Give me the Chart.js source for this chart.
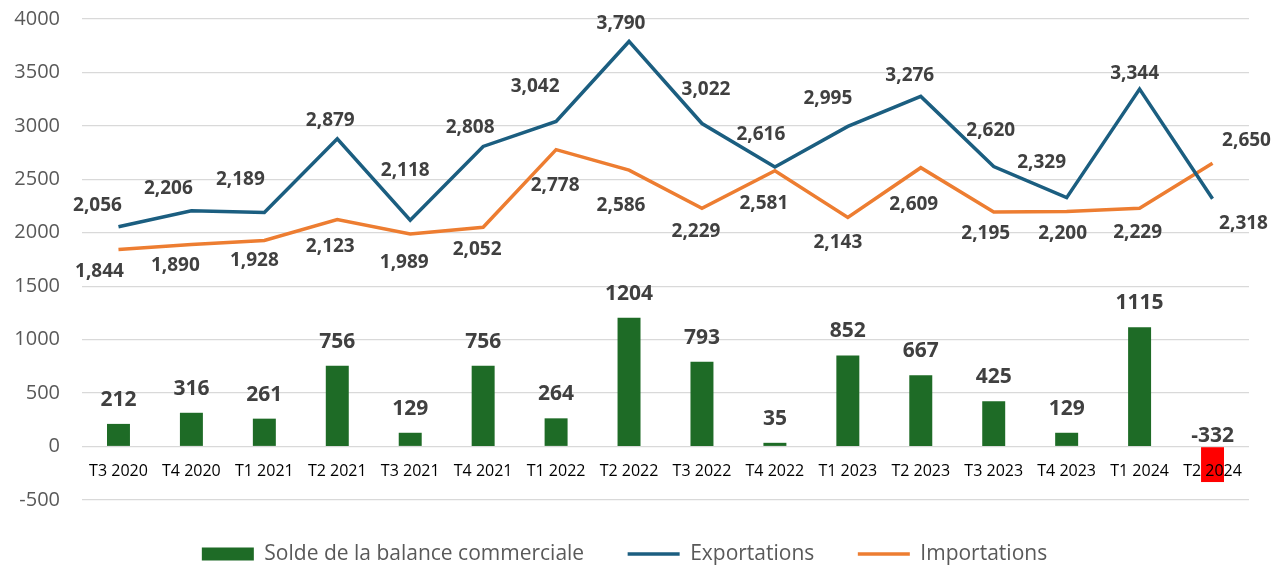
<!DOCTYPE html>
<html lang="fr">
<head>
<meta charset="utf-8">
<title>Balance commerciale</title>
<script src="https://cdn.jsdelivr.net/npm/chart.js@4/dist/chart.umd.min.js"></script>
<style>
  html, body { margin: 0; padding: 0; background: #ffffff; }
  #wrap { width: 1271px; height: 566px; }
</style>
</head>
<body>
<div id="wrap"><canvas id="c" width="1271" height="566"></canvas></div>
<script>
// Quarters
const categories = ['T3 2020', 'T4 2020', 'T1 2021', 'T2 2021', 'T3 2021', 'T4 2021',
  'T1 2022', 'T2 2022', 'T3 2022', 'T4 2022', 'T1 2023', 'T2 2023', 'T3 2023',
  'T4 2023', 'T1 2024', 'T2 2024'];

// Trade values per quarter
const exportations = [2056, 2206, 2189, 2879, 2118, 2808, 3042, 3790, 3022, 2616, 2995, 3276, 2620, 2329, 3344, 2318];
const importations = [1844, 1890, 1928, 2123, 1989, 2052, 2778, 2586, 2229, 2581, 2143, 2609, 2195, 2200, 2229, 2650];
const solde = [212, 316, 261, 756, 129, 756, 264, 1204, 793, 35, 852, 667, 425, 129, 1115, -332];

// Value axis ticks
const yTicks = [-500, 0, 500, 1000, 1500, 2000, 2500, 3000, 3500, 4000];

// Label nudges (px) relative to each point, so labels clear the lines
const exportLabelOffsets = [[-21, -21], [-23, -22], [-24, -33], [-7, -18], [-5, -50], [-13, -19], [-21, -35], [-8, -18],
  [4, -34], [-14, -32], [-20, -28], [-11, -21], [-3, -36], [-25, -35], [-5, -16], [31, 25]];
const importLabelOffsets = [[-19, 22], [-16, 21], [-10, 20], [-7, 27], [-6, 29], [-6, 22], [-1, 36], [-8, 35],
  [-6, 23], [-11, 33], [-10, 25], [-7, 37], [-8, 22], [-4, 22], [-2, 24], [34, -23]];

const GREEN = '#1e6b26';
const RED = '#ff0000';
const BLUE = '#1b5e80';
const ORANGE = '#ed7d31';
const FONT = "'Open Sans', 'Noto Sans', sans-serif";

const valueLabels = {
  id: 'valueLabels',
  afterDatasetsDraw(chart) {
    const ctx = chart.ctx;
    ctx.save();
    ctx.fillStyle = '#404040';
    ctx.textAlign = 'center';
    ctx.textBaseline = 'middle';
    chart.data.datasets.forEach((ds, di) => {
      const meta = chart.getDatasetMeta(di);
      meta.data.forEach((el, i) => {
        const v = ds.data[i];
        if (ds.type === 'bar') {
          ctx.font = 'bold 21px ' + FONT;
          const top = Math.min(el.y, el.base);
          const dy = v >= 0 ? -24 : -11;
          ctx.fillText(String(v), el.x, top + dy);
        } else {
          ctx.font = 'bold 19px ' + FONT;
          const off = ds.labelOffsets[i];
          ctx.fillText(v.toLocaleString('en-US'), el.x + off[0], el.y + off[1]);
        }
      });
    });
    ctx.restore();
  }
};

new Chart(document.getElementById('c'), {
  data: {
    labels: categories,
    datasets: [
      {
        type: 'bar',
        label: 'Solde de la balance commerciale',
        data: solde,
        backgroundColor: solde.map(v => v < 0 ? RED : GREEN),
        borderWidth: 0,
        barPercentage: 0.315,
        categoryPercentage: 1,
        order: 3
      },
      {
        type: 'line',
        label: 'Exportations',
        data: exportations,
        borderColor: BLUE,
        backgroundColor: BLUE,
        borderWidth: 3.5,
        pointRadius: 0,
        tension: 0,
        labelOffsets: exportLabelOffsets,
        order: 1
      },
      {
        type: 'line',
        label: 'Importations',
        data: importations,
        borderColor: ORANGE,
        backgroundColor: ORANGE,
        borderWidth: 3.5,
        pointRadius: 0,
        tension: 0,
        labelOffsets: importLabelOffsets,
        order: 2
      }
    ]
  },
  options: {
    responsive: false,
    animation: false,
    layout: { padding: { top: 19, right: 22, left: 0, bottom: -8.5 } },
    plugins: {
      tooltip: { enabled: false },
      legend: {
        position: 'bottom',
        labels: {
          font: { family: FONT, size: 21 },
          color: '#595959',
          usePointStyle: true,
          pointStyleWidth: 52,
          boxHeight: 13,
          padding: 43.5,
          generateLabels(chart) {
            const items = Chart.defaults.plugins.legend.labels.generateLabels(chart);
            items.sort((a, b) => a.datasetIndex - b.datasetIndex);
            items.forEach(it => {
              const ds = chart.data.datasets[it.datasetIndex];
              if (ds.type === 'bar') {
                it.pointStyle = 'rect';
                it.lineWidth = 0;
                it.fillStyle = GREEN;
              } else {
                it.pointStyle = 'line';
                it.lineWidth = 3.5;
              }
            });
            return items;
          }
        }
      }
    },
    scales: {
      x: {
        position: { y: 0 },
        grid: { display: false, drawTicks: false },
        border: { display: false },
        ticks: {
          z: 1,
          font: { family: FONT, size: 16 },
          color: '#000000',
          padding: 15,
          maxRotation: 0,
          autoSkip: false
        }
      },
      y: {
        min: -500,
        max: 4000,
        afterBuildTicks(scale) {
          scale.ticks = yTicks.map(v => ({ value: v }));
        },
        afterFit(scale) {
          scale.width = 82;
          scale.paddingTop = 0;
          scale.paddingBottom = 0;
        },
        grid: { color: '#d9d9d9', lineWidth: 1.3, drawTicks: false },
        border: { display: false },
        ticks: {
          font: { family: FONT, size: 20 },
          color: '#595959',
          padding: 22,
          callback: v => String(v)
        }
      }
    }
  },
  plugins: [valueLabels]
});
</script>
</body>
</html>
